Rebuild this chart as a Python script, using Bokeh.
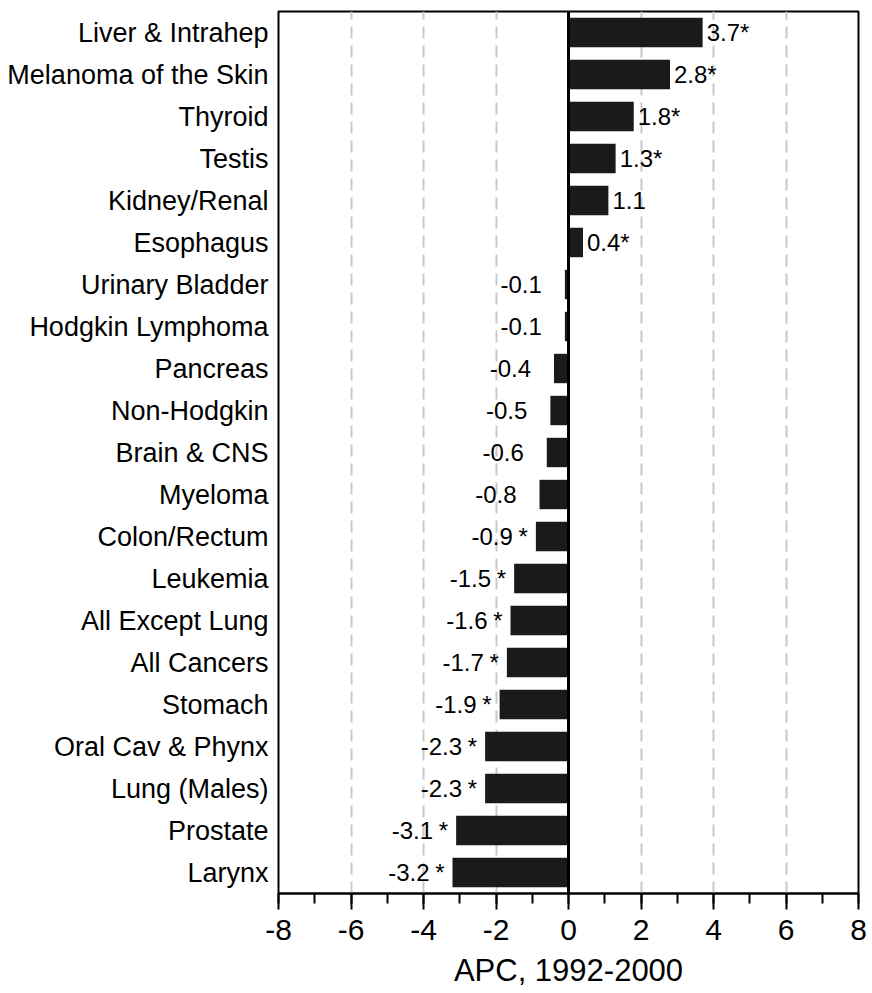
from bokeh.plotting import figure
from bokeh.models import (ColumnDataSource, FactorRange, Range1d, SingleIntervalTicker, Span,
                          CustomJSTickFormatter)
from bokeh.core.properties import value
from bokeh.embed import file_html
from bokeh.resources import INLINE

categories = ["Liver & Intrahep", "Melanoma of the Skin", "Thyroid", "Testis", "Kidney/Renal",
              "Esophagus", "Urinary Bladder", "Hodgkin Lymphoma", "Pancreas", "Non-Hodgkin",
              "Brain & CNS", "Myeloma", "Colon/Rectum", "Leukemia", "All Except Lung",
              "All Cancers", "Stomach", "Oral Cav & Phynx", "Lung (Males)", "Prostate", "Larynx"]
apc = [3.7, 2.8, 1.8, 1.3, 1.1, 0.4, -0.1, -0.1, -0.4, -0.5, -0.6, -0.8, -0.9, -1.5, -1.6,
       -1.7, -1.9, -2.3, -2.3, -3.1, -3.2]
significant = [True, True, True, True, False, True, False, False, False, False, False, False,
               True, True, True, True, True, True, True, True, True]
x_ticks_interval = 2
x_title = "APC, 1992-2000"

FONT = "Liberation Sans"

p = figure(width=872, height=993, output_backend="svg", toolbar_location=None,
           y_range=FactorRange(factors=list(reversed(categories)), range_padding=0),
           x_range=Range1d(-8, 8),
           min_border_left=278, min_border_right=14, min_border_top=11, min_border_bottom=100)

p.outline_line_color = "black"
p.outline_line_width = 2

# bars
src = ColumnDataSource(dict(cat=categories, apc=apc))
p.hbar(y="cat", left=0, right="apc", height=0.7, source=src,
       fill_color="#1a1a1a", line_color=None)

# labels
pos = [i for i, v in enumerate(apc) if v > 0]
neg = [i for i, v in enumerate(apc) if v <= 0]
pos_src = ColumnDataSource(dict(
    cat=[categories[i] for i in pos], x=[apc[i] for i in pos],
    t=[f"{apc[i]:.1f}" + ("*" if significant[i] else "") for i in pos]))
neg_src = ColumnDataSource(dict(
    cat=[categories[i] for i in neg], x=[apc[i] for i in neg],
    t=[f"{apc[i]:.1f}" for i in neg]))
star_src = ColumnDataSource(dict(
    cat=[categories[i] for i in neg if significant[i]],
    x=[apc[i] for i in neg if significant[i]],
    t=["*" for i in neg if significant[i]]))

common = dict(text_font=value(FONT), text_font_size="24px", text_color="black",
              text_baseline="middle")
p.text(x="x", y="cat", text="t", source=pos_src, x_offset=4, text_align="left", **common)
p.text(x="x", y="cat", text="t", source=neg_src, x_offset=-23, text_align="right", **common)
p.text(x="x", y="cat", text="t", source=star_src, x_offset=-8, text_align="right", **common)

# zero line
p.add_layout(Span(location=0, dimension="height", line_color="black", line_width=3))

# grid
p.ygrid.grid_line_color = None
p.xgrid.grid_line_color = "#c8c8c8"
p.xgrid.grid_line_width = 2
p.xgrid.grid_line_dash = "12 7"

# x axis
p.xaxis.ticker = SingleIntervalTicker(interval=x_ticks_interval, num_minor_ticks=2)
p.xaxis.formatter = CustomJSTickFormatter(code="return String(Math.round(tick));")
p.xaxis.axis_line_color = "black"
p.xaxis.axis_line_width = 2
p.xaxis.major_tick_line_color = "black"
p.xaxis.major_tick_line_width = 2
p.xaxis.major_tick_in = 0
p.xaxis.major_tick_out = 16
p.xaxis.minor_tick_line_color = "black"
p.xaxis.minor_tick_line_width = 2
p.xaxis.minor_tick_in = 0
p.xaxis.minor_tick_out = 10
p.xaxis.major_label_text_font = FONT
p.xaxis.major_label_text_font_size = "30px"
p.xaxis.major_label_text_color = "black"
p.xaxis.major_label_standoff = 10
p.xaxis.axis_label = x_title
p.xaxis.axis_label_text_font = FONT
p.xaxis.axis_label_text_font_size = "31px"
p.xaxis.axis_label_text_font_style = "normal"
p.xaxis.axis_label_text_color = "black"
p.xaxis.axis_label_standoff = 10

# y axis
p.yaxis.axis_line_color = None
p.yaxis.major_tick_line_color = None
p.yaxis.minor_tick_line_color = None
p.yaxis.major_label_text_font = FONT
p.yaxis.major_label_text_font_size = "27px"
p.yaxis.major_label_text_color = "black"
p.yaxis.major_label_standoff = 4

open("out.html", "w").write(file_html(p, INLINE))
